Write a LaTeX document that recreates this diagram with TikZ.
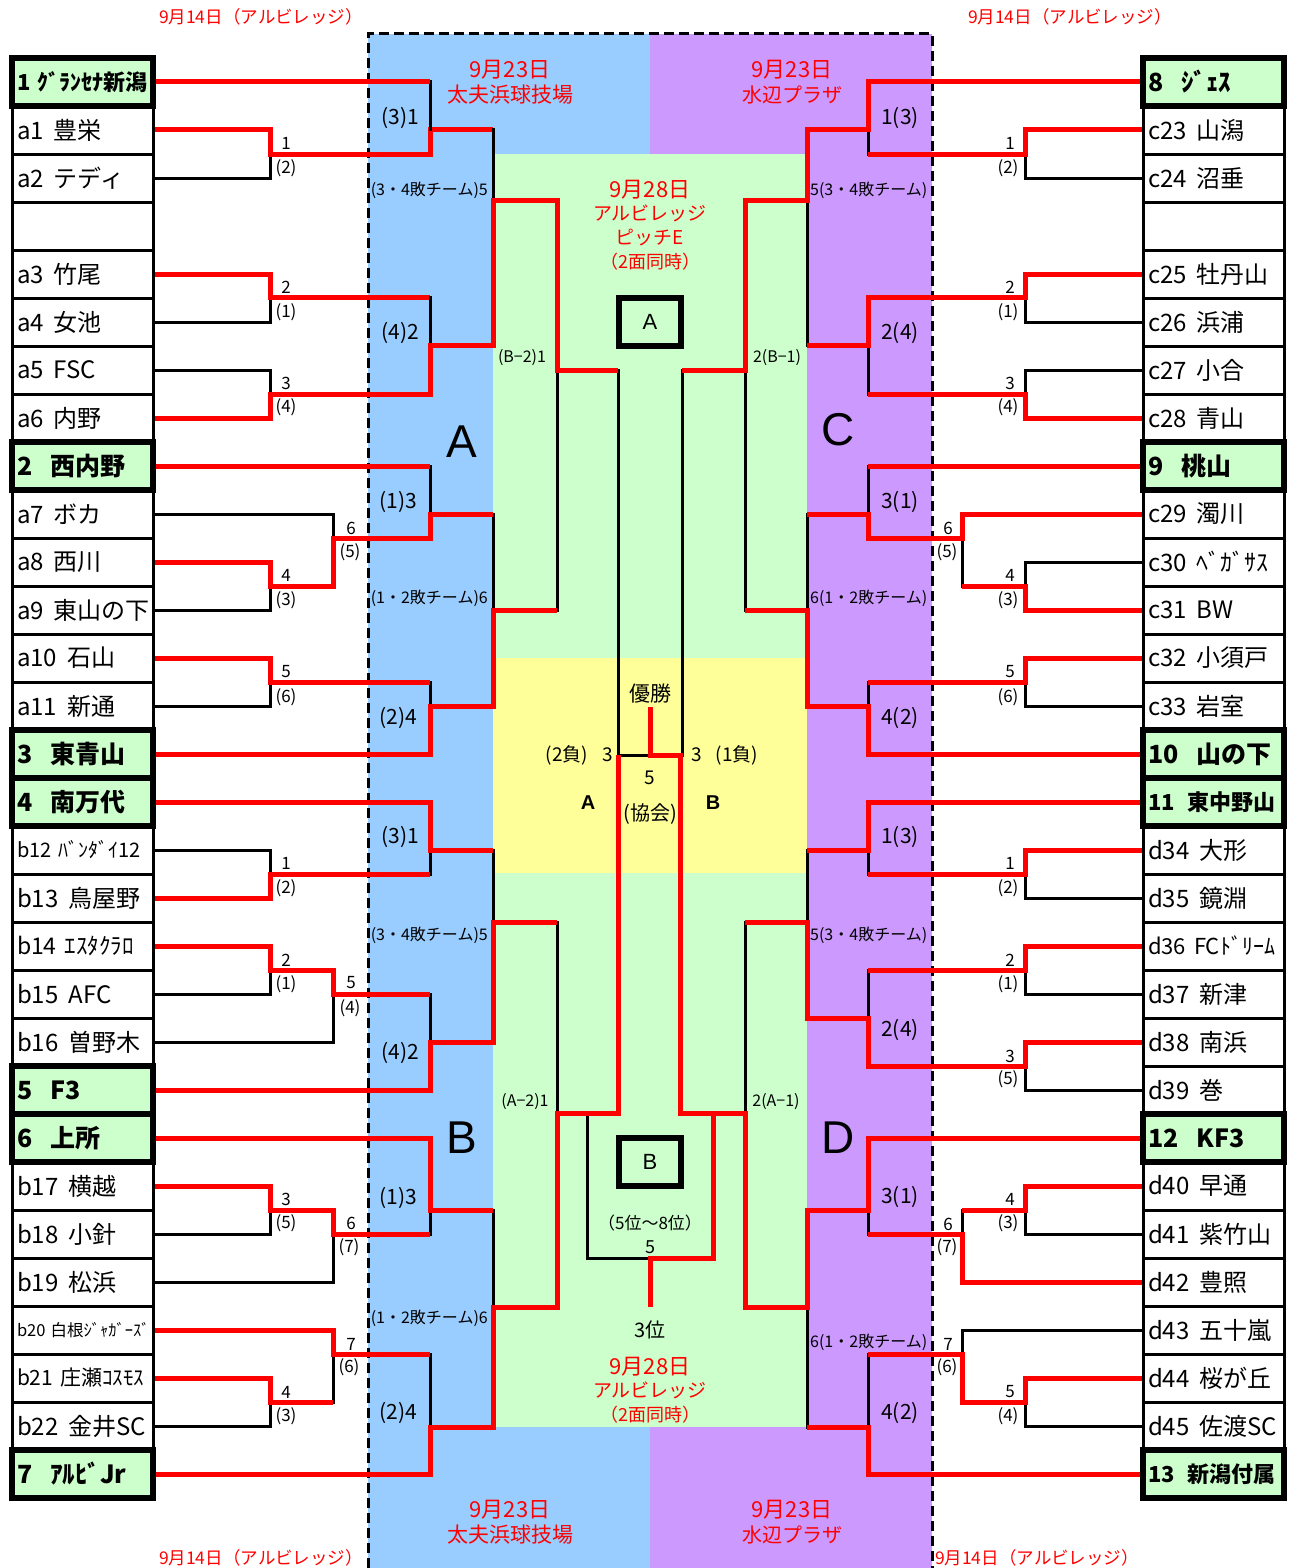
\documentclass[tikz,border=0pt]{standalone}
\usepackage{fontspec}
\setmainfont{Noto Sans CJK JP}
\newfontfamily\arialf{Liberation Sans}
\definecolor{bluefill}{HTML}{99CCFF}
\definecolor{purplefill}{HTML}{CC99FF}
\definecolor{greenfill}{HTML}{CCFFCC}
\definecolor{yellowfill}{HTML}{FFFF99}
\definecolor{redline}{HTML}{FF0000}
\newcommand\tgap{\hspace{10pt}}
\newcommand\sgap{\hspace{18pt}}
\newcommand\fsz[1]{\fontsize{#1}{#1}\selectfont}
\newcommand\nm[1]{\makebox[131pt][l]{#1}}
\begin{document}
\begin{tikzpicture}[x=1pt,y=-1pt,
 rl/.style={draw=redline,line width=5pt,line join=miter},
 bl/.style={draw=black,line width=3pt,line cap=rect},
 box/.style={draw,line width=3pt,minimum width=141pt,minimum height=48pt,inner xsep=5pt,inner ysep=0pt,font=\fsz{24}},
 seed/.style={box,line width=6pt,fill=greenfill,font=\fsz{25}\bfseries},
 rn/.style={font=\fsz{17},inner sep=0pt},
 bz/.style={font=\fsz{21},inner sep=0pt},
 lt/.style={font=\fsz{16},inner sep=0pt},
 rt/.style={text=redline,font=\fsz{22},inner sep=0pt},
 ct/.style={font=\fsz{19},inner sep=0pt},
 big/.style={font=\arialf\fsz{46},inner sep=0pt},
 ab/.style={draw,line width=6pt,minimum width=62pt,minimum height=48pt,inner sep=0pt,font=\arialf\fsz{22}}
]
\useasboundingbox (0,0) rectangle (1295,1568);
% regions
\fill[bluefill] (368,34) rectangle (650,1568);
\fill[purplefill] (650,34) rectangle (932,1568);
\fill[greenfill] (493,154) rectangle (807,1427);
\fill[yellowfill] (493,658) rectangle (807,873);
\draw[black,line width=3pt,dash pattern=on 10pt off 5pt] (368,1568) -- (368,34) -- (932,34) -- (932,1568);

% left boxes
\node[box] (L1) at (82.5,130) {\nm{a1\tgap 豊栄}};
\node[box] (L2) at (82.5,178) {\nm{a2\tgap テディ}};
\node[box] (L3) at (82.5,226) {\nm{}};
\node[box] (L4) at (82.5,274) {\nm{a3\tgap 竹尾}};
\node[box] (L5) at (82.5,322) {\nm{a4\tgap 女池}};
\node[box] (L6) at (82.5,370) {\nm{a5\tgap FSC}};
\node[box] (L7) at (82.5,418) {\nm{a6\tgap 内野}};
\node[box] (L9) at (82.5,514) {\nm{a7\tgap ボカ}};
\node[box] (L10) at (82.5,562) {\nm{a8\tgap 西川}};
\node[box] (L11) at (82.5,610) {\nm{a9\tgap 東山の下}};
\node[box] (L12) at (82.5,658) {\nm{a10\tgap 石山}};
\node[box] (L13) at (82.5,706) {\nm{a11\tgap 新通}};
\node[box] (L16) at (82.5,850) {\nm{\fsz{20}b12\hspace{7pt}ﾊﾞﾝﾀﾞｲ12}};
\node[box] (L17) at (82.5,898) {\nm{b13\tgap 鳥屋野}};
\node[box] (L18) at (82.5,946) {\nm{\fsz{23}b14\hspace{8pt}ｴｽﾀｸﾗﾛ}};
\node[box] (L19) at (82.5,994) {\nm{b15\tgap AFC}};
\node[box] (L20) at (82.5,1042) {\nm{b16\tgap 曽野木}};
\node[box] (L23) at (82.5,1186) {\nm{b17\tgap 横越}};
\node[box] (L24) at (82.5,1234) {\nm{b18\tgap 小針}};
\node[box] (L25) at (82.5,1282) {\nm{b19\tgap 松浜}};
\node[box] (L26) at (82.5,1330) {\nm{\fsz{16.5}b20\hspace{5pt}白根ｼﾞｬｶﾞｰｽﾞ}};
\node[box] (L27) at (82.5,1378) {\nm{\fsz{21}b21\hspace{7pt}庄瀬ｺｽﾓｽ}};
\node[box] (L28) at (82.5,1426) {\nm{b22\tgap 金井SC}};
\node[seed] (L0) at (82.5,82) {\nm{\fsz{22}1\hspace{7pt}ｸﾞﾗﾝｾﾅ新潟}};
\node[seed] (L8) at (82.5,466) {\nm{2\sgap 西内野}};
\node[seed] (L14) at (82.5,754) {\nm{3\sgap 東青山}};
\node[seed] (L15) at (82.5,802) {\nm{4\sgap 南万代}};
\node[seed] (L21) at (82.5,1090) {\nm{5\sgap F3}};
\node[seed] (L22) at (82.5,1138) {\nm{6\sgap 上所}};
\node[seed] (L29) at (82.5,1474) {\nm{7\sgap ｱﾙﾋﾞJr}};

% right boxes
\node[box] (R1) at (1213.5,130) {\nm{c23\tgap 山潟}};
\node[box] (R2) at (1213.5,178) {\nm{c24\tgap 沼垂}};
\node[box] (R3) at (1213.5,226) {\nm{}};
\node[box] (R4) at (1213.5,274) {\nm{c25\tgap 牡丹山}};
\node[box] (R5) at (1213.5,322) {\nm{c26\tgap 浜浦}};
\node[box] (R6) at (1213.5,370) {\nm{c27\tgap 小合}};
\node[box] (R7) at (1213.5,418) {\nm{c28\tgap 青山}};
\node[box] (R9) at (1213.5,514) {\nm{c29\tgap 濁川}};
\node[box] (R10) at (1213.5,562) {\nm{c30\tgap ﾍﾞｶﾞｻｽ}};
\node[box] (R11) at (1213.5,610) {\nm{c31\tgap BW}};
\node[box] (R12) at (1213.5,658) {\nm{c32\tgap 小須戸}};
\node[box] (R13) at (1213.5,706) {\nm{c33\tgap 岩室}};
\node[box] (R16) at (1213.5,850) {\nm{d34\tgap 大形}};
\node[box] (R17) at (1213.5,898) {\nm{d35\tgap 鏡淵}};
\node[box] (R18) at (1213.5,946) {\nm{\fsz{22}d36\hspace{8pt}FCﾄﾞﾘｰﾑ}};
\node[box] (R19) at (1213.5,994) {\nm{d37\tgap 新津}};
\node[box] (R20) at (1213.5,1042) {\nm{d38\tgap 南浜}};
\node[box] (R21) at (1213.5,1090) {\nm{d39\tgap 巻}};
\node[box] (R23) at (1213.5,1186) {\nm{d40\tgap 早通}};
\node[box] (R24) at (1213.5,1234) {\nm{d41\tgap 紫竹山}};
\node[box] (R25) at (1213.5,1282) {\nm{d42\tgap 豊照}};
\node[box] (R26) at (1213.5,1330) {\nm{d43\tgap 五十嵐}};
\node[box] (R27) at (1213.5,1378) {\nm{d44\tgap 桜が丘}};
\node[box] (R28) at (1213.5,1426) {\nm{d45\tgap 佐渡SC}};
\node[seed] (R0) at (1213.5,82) {\nm{8\sgap ｼﾞｪｽ}};
\node[seed] (R8) at (1213.5,466) {\nm{9\sgap 桃山}};
\node[seed] (R14) at (1213.5,754) {\nm{10\sgap 山の下}};
\node[seed] (R15) at (1213.5,802) {\nm{\fsz{22}11\hspace{13pt}東中野山}};
\node[seed] (R22) at (1213.5,1138) {\nm{12\sgap KF3}};
\node[seed] (R29) at (1213.5,1474) {\nm{\fsz{22}13\hspace{13pt}新潟付属}};

% ---- left A block
\draw[bl] (L2.east) -- (270,178) -- (270,154);
\draw[rl] (L1.east) -- (270,130) -- (270,154) -- (430,154) -- (430,130) -- (493,130);
\draw[bl] (430,82) -- (430,130);
\draw[rl] (L0.east) -- (430,82);
\draw[bl] (L5.east) -- (270,322) -- (270,297);
\draw[rl] (L4.east) -- (270,274) -- (270,297) -- (430,297);
\draw[bl] (L6.east) -- (270,370) -- (270,394);
\draw[bl] (430,297) -- (430,345);
\draw[bl] (493,130) -- (493,200);
\draw[bl] (557,370) -- (557,610);
\draw[bl] (618,370) -- (618,755) -- (650,755);
\draw[rl] (L7.east) -- (270,418) -- (270,394) -- (430,394) -- (430,345) -- (493,345) -- (493,200) -- (557,200) -- (557,370) -- (618,370);
\draw[bl] (430,466) -- (430,514);
\draw[rl] (L8.east) -- (430,466);
\draw[bl] (L11.east) -- (270,610) -- (270,586);
\draw[bl] (L9.east) -- (333,514) -- (333,538);
\draw[bl] (493,514) -- (493,610);
\draw[rl] (L10.east) -- (270,562) -- (270,586) -- (333,586) -- (333,538) -- (430,538) -- (430,514) -- (493,514);
\draw[bl] (L13.east) -- (270,706) -- (270,682);
\draw[bl] (430,682) -- (430,706);
\draw[rl] (L12.east) -- (270,658) -- (270,682) -- (430,682);
\draw[rl] (L14.east) -- (430,754) -- (430,706) -- (493,706) -- (493,610) -- (557,610);

% ---- left B block
\draw[bl] (L16.east) -- (270,850) -- (270,874);
\draw[bl] (430,850) -- (430,874);
\draw[bl] (493,850) -- (493,922);
\draw[rl] (L15.east) -- (430,802) -- (430,850) -- (493,850);
\draw[rl] (L17.east) -- (270,898) -- (270,874) -- (430,874);
\draw[bl] (L19.east) -- (270,994) -- (270,970);
\draw[bl] (L20.east) -- (333,1042) -- (333,994);
\draw[bl] (430,994) -- (430,1042);
\draw[rl] (L18.east) -- (270,946) -- (270,970) -- (333,970) -- (333,994) -- (430,994);
\draw[bl] (557,922) -- (557,1113);
\draw[rl] (L21.east) -- (430,1090) -- (430,1042) -- (493,1042) -- (493,922) -- (557,922);
\draw[bl] (L24.east) -- (270,1234) -- (270,1210);
\draw[bl] (L25.east) -- (333,1282) -- (333,1234);
\draw[bl] (430,1210) -- (430,1234);
\draw[bl] (493,1210) -- (493,1307);
\draw[rl] (L22.east) -- (430,1138) -- (430,1210) -- (493,1210);
\draw[rl] (L23.east) -- (270,1186) -- (270,1210) -- (333,1210) -- (333,1234) -- (430,1234);
\draw[bl] (L28.east) -- (270,1426) -- (270,1402);
\draw[bl] (333,1354) -- (333,1402);
\draw[bl] (430,1354) -- (430,1427);
\draw[rl] (L26.east) -- (333,1330) -- (333,1354) -- (430,1354);
\draw[rl] (L27.east) -- (270,1378) -- (270,1402) -- (333,1402);
\draw[bl] (587,1113) -- (587,1258) -- (650,1258);
\draw[rl] (L29.east) -- (430,1474) -- (430,1427) -- (493,1427) -- (493,1307) -- (557,1307) -- (557,1113) -- (618,1113) -- (618,755);

% ---- right C block
\draw[bl] (R2.west) -- (1025,178) -- (1025,154);
\draw[bl] (868,130) -- (868,154);
\draw[rl] (R1.west) -- (1025,130) -- (1025,154) -- (868,154);
\draw[bl] (R5.west) -- (1025,322) -- (1025,297);
\draw[bl] (R6.west) -- (1025,370) -- (1025,394);
\draw[bl] (868,345) -- (868,394);
\draw[bl] (807,200) -- (807,345);
\draw[bl] (745,370) -- (745,610);
\draw[bl] (682,370) -- (682,755);
\draw[rl] (R7.west) -- (1025,418) -- (1025,394) -- (868,394);
\draw[rl] (R4.west) -- (1025,274) -- (1025,297) -- (868,297) -- (868,345) -- (807,345);
\draw[rl] (R0.west) -- (868,82) -- (868,130) -- (807,130) -- (807,200) -- (745,200) -- (745,370) -- (682,370);
\draw[bl] (868,466) -- (868,514);
\draw[bl] (R10.west) -- (1025,562) -- (1025,586);
\draw[bl] (962,538) -- (962,586);
\draw[bl] (807,514) -- (807,610);
\draw[rl] (R8.west) -- (868,466);
\draw[rl] (R11.west) -- (1025,610) -- (1025,586) -- (962,586);
\draw[rl] (R9.west) -- (962,514) -- (962,538) -- (868,538) -- (868,514) -- (807,514);
\draw[bl] (R13.west) -- (1025,706) -- (1025,682);
\draw[bl] (868,682) -- (868,706);
\draw[rl] (R12.west) -- (1025,658) -- (1025,682) -- (868,682);
\draw[rl] (R14.west) -- (868,754) -- (868,706) -- (807,706) -- (807,610) -- (745,610);

% ---- right D block
\draw[bl] (R17.west) -- (1025,898) -- (1025,874);
\draw[bl] (868,850) -- (868,874);
\draw[bl] (807,850) -- (807,922);
\draw[rl] (R15.west) -- (868,802) -- (868,850) -- (807,850);
\draw[rl] (R16.west) -- (1025,850) -- (1025,874) -- (868,874);
\draw[bl] (R19.west) -- (1025,994) -- (1025,970);
\draw[bl] (R21.west) -- (1025,1090) -- (1025,1066);
\draw[bl] (868,970) -- (868,1018);
\draw[bl] (745,922) -- (745,1113);
\draw[rl] (R18.west) -- (1025,946) -- (1025,970) -- (868,970);
\draw[rl] (R20.west) -- (1025,1042) -- (1025,1066) -- (868,1066) -- (868,1018) -- (807,1018) -- (807,922) -- (745,922);
\draw[bl] (R24.west) -- (1025,1234) -- (1025,1210);
\draw[bl] (962,1210) -- (962,1234);
\draw[bl] (868,1210) -- (868,1234);
\draw[rl] (R23.west) -- (1025,1186) -- (1025,1210) -- (962,1210);
\draw[rl] (R25.west) -- (962,1282) -- (962,1234) -- (868,1234);
\draw[bl] (R26.west) -- (962,1330) -- (962,1354);
\draw[bl] (R28.west) -- (1025,1426) -- (1025,1402);
\draw[bl] (868,1354) -- (868,1427);
\draw[bl] (807,1307) -- (807,1427);
\draw[rl] (R27.west) -- (1025,1378) -- (1025,1402) -- (962,1402) -- (962,1354) -- (868,1354);
\draw[rl] (R29.west) -- (868,1474) -- (868,1427) -- (807,1427);
\draw[rl] (R22.west) -- (868,1138) -- (868,1210) -- (807,1210) -- (807,1307) -- (745,1307) -- (745,1113) -- (680,1113) -- (680,755) -- (650,755) -- (650,707);
\draw[rl] (713,1113) -- (713,1258) -- (650,1258) -- (650,1307);

% ---- centre boxes
\node[ab] (boxA) at (650,322) {A};
\node[ab] (boxB) at (650,1162) {B};

% ---- round labels left
\node[rn] (la1) at (286,143) {1}; \node[rn] (la1b) at (286,168) {(2)};
\node[rn] (la2) at (286,287) {2}; \node[rn] (la2b) at (286,312) {(1)};
\node[rn] (la3) at (286,383) {3}; \node[rn] (la3b) at (286,407) {(4)};
\node[rn] (la6) at (351,528) {6}; \node[rn] (la6b) at (350,552) {(5)};
\node[rn] (la4) at (286,575) {4}; \node[rn] (la4b) at (286,600) {(3)};
\node[rn] (la5) at (286,672) {5}; \node[rn] (la5b) at (286,697) {(6)};
\node[rn] (lb1) at (286,863) {1}; \node[rn] (lb1b) at (286,888) {(2)};
\node[rn] (lb2) at (286,960) {2}; \node[rn] (lb2b) at (286,984) {(1)};
\node[rn] (lb5) at (351,983) {5}; \node[rn] (lb5b) at (350,1008) {(4)};
\node[rn] (lb3) at (286,1199) {3}; \node[rn] (lb3b) at (286,1223) {(5)};
\node[rn] (lb6) at (351,1223) {6}; \node[rn] (lb6b) at (349,1247) {(7)};
\node[rn] (lb7) at (351,1344) {7}; \node[rn] (lb7b) at (349,1367) {(6)};
\node[rn] (lb4) at (286,1392) {4}; \node[rn] (lb4b) at (286,1416) {(3)};
% ---- round labels right
\node[rn] (rc1) at (1010,143) {1}; \node[rn] (rc1b) at (1008,168) {(2)};
\node[rn] (rc2) at (1010,287) {2}; \node[rn] (rc2b) at (1008,312) {(1)};
\node[rn] (rc3) at (1010,383) {3}; \node[rn] (rc3b) at (1008,407) {(4)};
\node[rn] (rc6) at (948,528) {6}; \node[rn] (rc6b) at (947,552) {(5)};
\node[rn] (rc4) at (1010,575) {4}; \node[rn] (rc4b) at (1008,600) {(3)};
\node[rn] (rc5) at (1010,672) {5}; \node[rn] (rc5b) at (1008,697) {(6)};
\node[rn] (rd1) at (1010,863) {1}; \node[rn] (rd1b) at (1008,888) {(2)};
\node[rn] (rd2) at (1010,960) {2}; \node[rn] (rd2b) at (1008,984) {(1)};
\node[rn] (rd3) at (1010,1056) {3}; \node[rn] (rd3b) at (1008,1079) {(5)};
\node[rn] (rd4) at (1010,1199) {4}; \node[rn] (rd4b) at (1008,1223) {(3)};
\node[rn] (rd6) at (948,1224) {6}; \node[rn] (rd6b) at (947,1247) {(7)};
\node[rn] (rd7) at (948,1344) {7}; \node[rn] (rd7b) at (947,1367) {(6)};
\node[rn] (rd5) at (1010,1392) {5}; \node[rn] (rd5b) at (1008,1416) {(4)};

% ---- second round labels
\node[bz] (q1) at (400,118) {(3)1};
\node[bz] (q2) at (400,333) {(4)2};
\node[bz] (q3) at (398,502) {(1)3};
\node[bz] (q4) at (398,718) {(2)4};
\node[bz] (q5) at (400,837) {(3)1};
\node[bz] (q6) at (400,1053) {(4)2};
\node[bz] (q7) at (398,1198) {(1)3};
\node[bz] (q8) at (398,1413) {(2)4};
\node[bz] (p1) at (900,118) {1(3)};
\node[bz] (p2) at (900,333) {2(4)};
\node[bz] (p3) at (900,502) {3(1)};
\node[bz] (p4) at (900,718) {4(2)};
\node[bz] (p5) at (900,837) {1(3)};
\node[bz] (p6) at (900,1030) {2(4)};
\node[bz] (p7) at (900,1197) {3(1)};
\node[bz] (p8) at (900,1413) {4(2)};
% ---- loser-team labels
\node[lt,anchor=east] (s1) at (488,190) {(3・4敗チーム)5};
\node[lt,anchor=east] (s2) at (488,598) {(1・2敗チーム)6};
\node[lt,anchor=east] (s3) at (488,935) {(3・4敗チーム)5};
\node[lt,anchor=east] (s4) at (488,1318) {(1・2敗チーム)6};
\node[lt,anchor=west] (s5) at (810,190) {5(3・4敗チーム)};
\node[lt,anchor=west] (s6) at (810,598) {6(1・2敗チーム)};
\node[lt,anchor=west] (s7) at (810,935) {5(3・4敗チーム)};
\node[lt,anchor=west] (s8) at (810,1342) {6(1・2敗チーム)};
\node[lt] (k1) at (522,358) {(B−2)1};
\node[lt] (k2) at (777,358) {2(B−1)};
\node[lt] (k3) at (525,1102) {(A−2)1};
\node[lt] (k4) at (776,1102) {2(A−1)};

% ---- centre texts
\node[ct,font=\fsz{21}] (yusho) at (650,694) {優勝};
\node[ct,anchor=east] (lose2) at (613,755) {(2負)\hspace{14pt}3};
\node[ct,anchor=west] (lose1) at (691,755) {3\hspace{14pt}(1負)};
\node[ct] (five) at (650,778) {5};
\node[ct,font=\fsz{20}] (kyokai) at (650,814) {(協会)};
\node[ct,font=\arialf\bfseries\fsz{20}] (ctA) at (588,803) {A};
\node[ct,font=\arialf\bfseries\fsz{20}] (ctB) at (713,803) {B};
\node[ct,font=\fsz{17}] (rank58) at (650,1223) {（5位～8位）};
\node[ct,font=\fsz{18}] (five2) at (650,1247) {5};
\node[ct,font=\fsz{20}] (third) at (650,1330) {3位};

% ---- big block letters
\node[big] (bigA) at (462,442) {A};
\node[big] (bigB) at (462,1138) {B};
\node[big] (bigC) at (838,430) {C};
\node[big] (bigD) at (838,1138) {D};

% ---- red venue texts
\node[rt,font=\fsz{17.5}] (v1) at (261,17) {9月14日（アルビレッジ）};
\node[rt,font=\fsz{17.5}] (v2) at (1070,17) {9月14日（アルビレッジ）};
\node[rt,font=\fsz{17.5}] (v3) at (261,1558) {9月14日（アルビレッジ）};
\node[rt,font=\fsz{17.5}] (v4) at (1037,1558) {9月14日（アルビレッジ）};
\node[rt] (v5) at (510,70) {9月23日};
\node[rt,font=\fsz{21}] (v6) at (510,95) {太夫浜球技場};
\node[rt] (v7) at (792,70) {9月23日};
\node[rt,font=\fsz{20}] (v8) at (792,95) {水辺プラザ};
\node[rt] (v9) at (510,1510) {9月23日};
\node[rt,font=\fsz{21}] (v10) at (510,1535) {太夫浜球技場};
\node[rt] (v11) at (792,1510) {9月23日};
\node[rt,font=\fsz{20}] (v12) at (792,1535) {水辺プラザ};
\node[rt] (v13) at (650,190) {9月28日};
\node[rt,font=\fsz{19}] (v14) at (650,213) {アルビレッジ};
\node[rt,font=\fsz{19}] (v15) at (650,238) {ピッチE};
\node[rt,font=\fsz{18}] (v16) at (650,262) {（2面同時）};
\node[rt] (v17) at (650,1367) {9月28日};
\node[rt,font=\fsz{19}] (v18) at (650,1390) {アルビレッジ};
\node[rt,font=\fsz{18}] (v19) at (650,1415) {（2面同時）};
\end{tikzpicture}
\end{document}
